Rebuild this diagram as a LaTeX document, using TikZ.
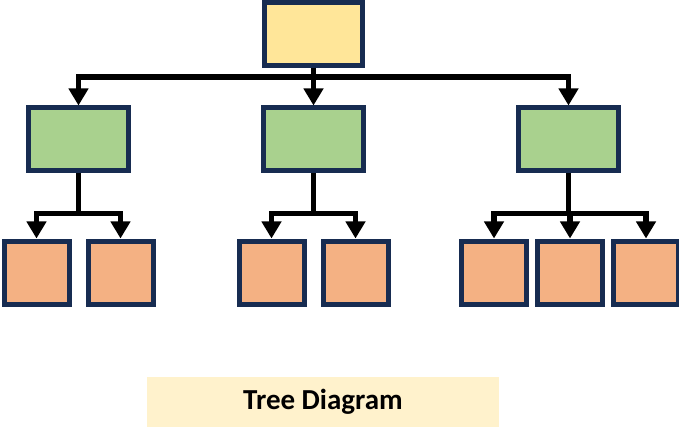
\documentclass[tikz,border=0pt]{standalone}
\usepackage{fontspec}
\setmainfont{Carlito}
\usepackage{xcolor}
\usetikzlibrary{trees,arrows.meta}
\definecolor{boxline}{HTML}{172C51}
\definecolor{rootfill}{HTML}{FFE699}
\definecolor{midfill}{HTML}{A9D18E}
\definecolor{leaffill}{HTML}{F4B183}
\definecolor{capfill}{HTML}{FFF2CC}
\begin{document}
\begin{tikzpicture}[x=1pt,y=1pt,
    box/.style={rectangle,draw=boxline,line width=5pt},
    rootbox/.style={box,fill=rootfill,minimum width=98pt,minimum height=63pt},
    midbox/.style={box,fill=midfill,minimum width=100pt,minimum height=63pt},
    leafbox/.style={box,fill=leaffill,minimum width=65pt,minimum height=63pt},
    edge from parent/.style={draw,line width=5.5pt,-{Triangle[width=19pt,length=17pt]}},
    level 1/.style={level distance=105.5pt,sibling distance=235pt,
      edge from parent path={(\tikzparentnode.south) -- ++(0,-9) -| (\tikzchildnode.north)}},
    level 2/.style={level distance=133pt,sibling distance=84pt,xshift=-1.5pt,
      edge from parent path={(\tikzparentnode.south) -- ++(0,-40) -| (\tikzchildnode.north)}}]
    \useasboundingbox (0,0) rectangle (679,-438);
    \node [rootbox] (root) at (313.5,-34) {}
      child {node [midbox] (m1) {}
          child {node [leafbox] (l11) {}
          }
          child {node [leafbox] (l12) {}
          }
      }
      child {node [midbox] (m2) {}
          child {node [leafbox] (l21) {}
          }
          child {node [leafbox] (l22) {}
          }
      }
      child [xshift=20pt] {node [midbox] (m3) {}
          child [sibling distance=76pt,xshift=1.5pt] {node [leafbox] (l31) {}
          }
          child [sibling distance=76pt,xshift=1.5pt] {node [leafbox] (l32) {}
          }
          child [sibling distance=76pt,xshift=1.5pt] {node [leafbox] (l33) {}
          }
      }
        ;
    \node [fill=capfill,minimum width=352pt,minimum height=50pt,
      font=\bfseries\fontsize{29}{33}\selectfont] (title) at (323,-402) {Tree Diagram};
\end{tikzpicture}
\end{document}
